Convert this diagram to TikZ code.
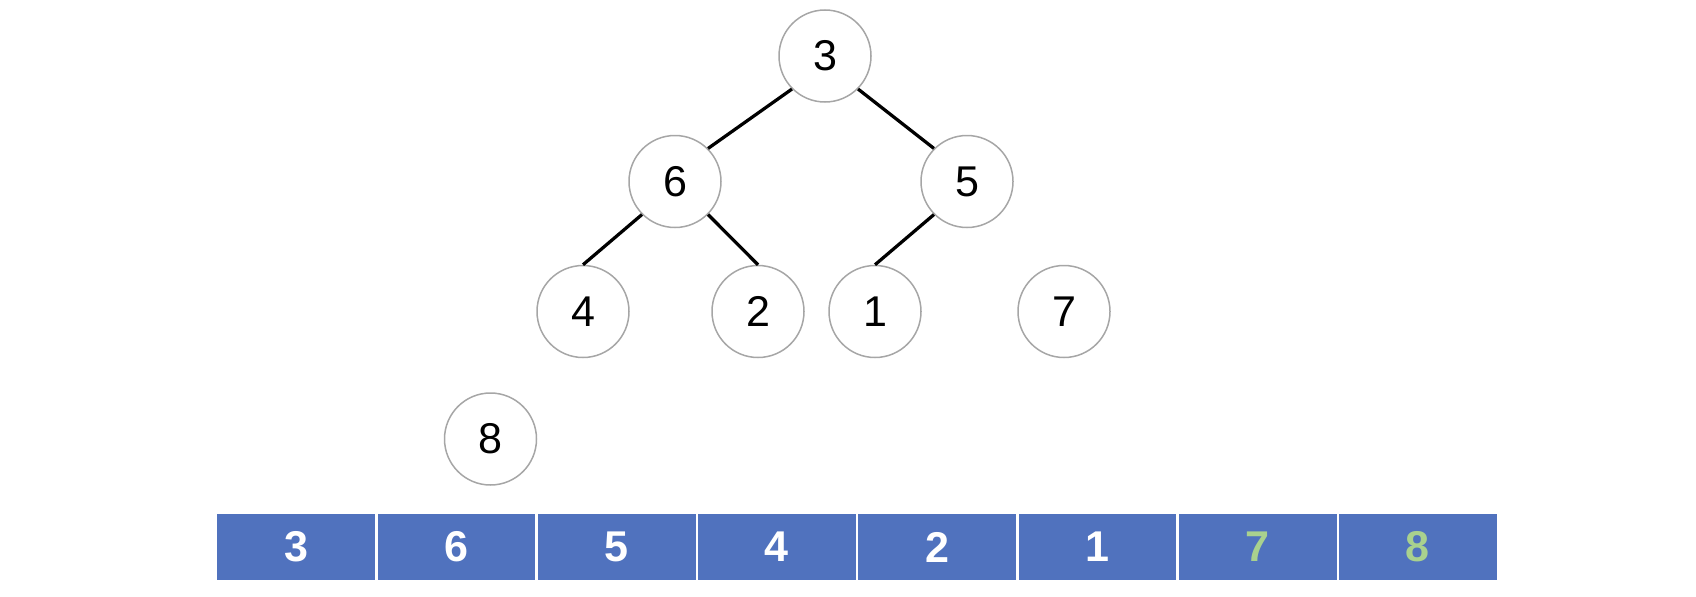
\documentclass[tikz,border=0pt]{standalone}
\usepackage{fontspec}
\setmainfont{Liberation Sans}
\usetikzlibrary{positioning}
\definecolor{cellblue}{HTML}{5072BE}
\definecolor{newgreen}{HTML}{A9D18E}
\definecolor{ringgray}{HTML}{A6A6A6}

\begin{document}
\begin{tikzpicture}[
    heapnode/.style={circle, draw=ringgray, line width=0.03cm, minimum size=1.84cm,
      inner sep=0pt, font=\fontsize{24.5}{28}\selectfont},
    cell/.style={rectangle, fill=cellblue, draw=white, line width=0.05cm,
      minimum width=3.205cm, minimum height=1.37cm, inner sep=0pt,
      font=\bfseries\fontsize{24.5}{28}\selectfont},
    heapedge/.style={line width=0.065cm}
  ]
  \useasboundingbox (0,0) rectangle (33.92,-11.92);

  % tree
  \node[heapnode] (n3) at (16.5, -1.12) {3};
  \node[heapnode] (n6) at (13.5, -3.63) {6};
  \node[heapnode] (n5) at (19.34, -3.63) {5};
  \node[heapnode] (n4) at (11.66, -6.23) {4};
  \node[heapnode] (n2) at (15.16, -6.23) {2};
  \node[heapnode] (n1) at (17.5, -6.23) {1};
  \node[heapnode] (n7) at (21.28, -6.23) {7};
  \node[heapnode] (n8) at (9.81, -8.78) {8};

  \draw[heapedge] (n3.south west) -- (n6.north east);
  \draw[heapedge] (n3.south east) -- (n5.north west);
  \draw[heapedge] (n6.south west) -- (n4.north);
  \draw[heapedge] (n6.south east) -- (n2.north);
  \draw[heapedge] (n5.south west) -- (n1.north);

  % array
  \foreach \i/\v/\c in {0/3/white, 1/6/white, 2/5/white, 3/4/white,
                        4/2/white, 5/1/white, 6/7/newgreen, 7/8/newgreen} {
    \node[cell, text=\c] (a\i) at ({4.32 + 3.205*(\i + 0.5)}, -10.94) {\v};
  }
\end{tikzpicture}
\end{document}
